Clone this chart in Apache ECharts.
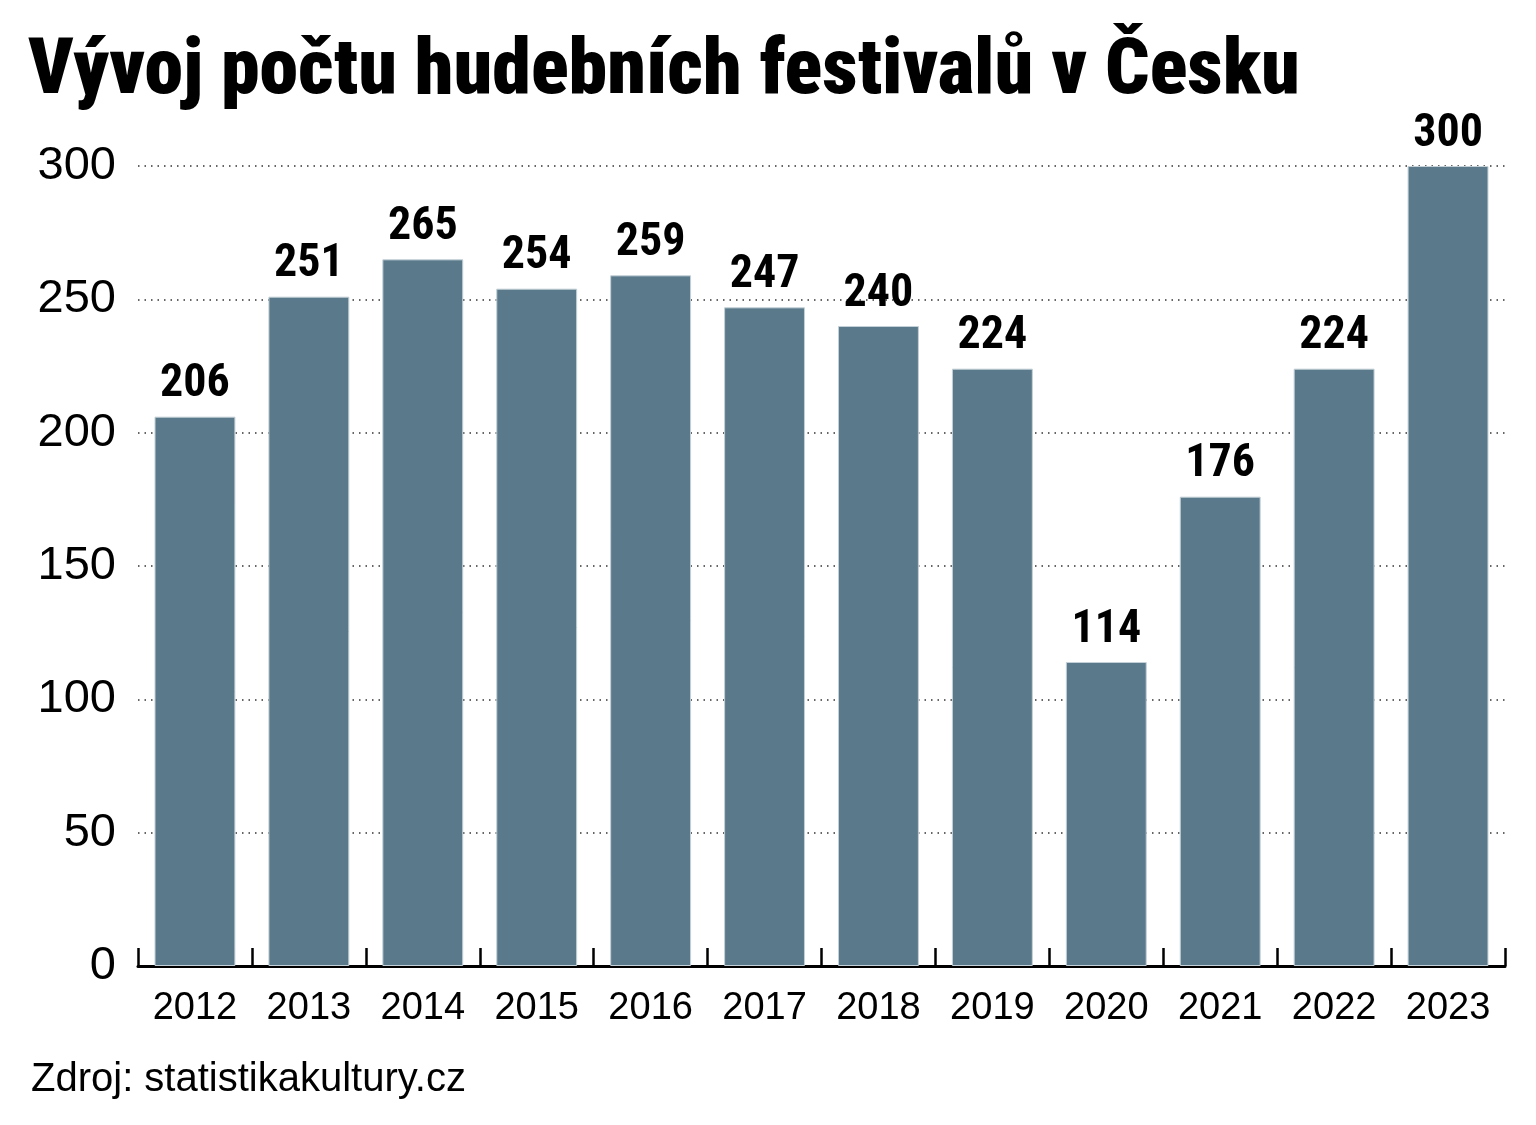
<!DOCTYPE html>
<html><head><meta charset="utf-8">
<script src="https://cdn.jsdelivr.net/npm/echarts@6/dist/echarts.min.js"></script>
<style>html,body{margin:0;padding:0;background:#fff}#c{width:1536px;height:1125px}</style>
</head><body><div id="c"></div>
<script>
const years = ['2012','2013','2014','2015','2016','2017','2018','2019','2020','2021','2022','2023'];
const festivals = [206,251,265,254,259,247,240,224,114,176,224,300];
const yTicks = [0,50,100,150,200,250,300];
const titleText = 'Vývoj počtu hudebních festivalů v Česku';
const sourceText = 'Zdroj: statistikakultury.cz';

const chart = echarts.init(document.getElementById('c'), null, {renderer:'canvas'});
chart.setOption({
  backgroundColor:'#fff',
  animation:false,
  title:[{
    text:titleText, left:23, top:29,
    textStyle:{fontFamily:'"Roboto Condensed","Liberation Sans Narrow",Roboto,sans-serif',fontWeight:900,fontSize:78,color:'#000'}
  },{
    text:sourceText, left:26, top:1055,
    textStyle:{fontFamily:'"Liberation Sans",Arial,sans-serif',fontWeight:'normal',fontSize:40,color:'#000'}
  }],
  grid:{left:138,right:31,top:166,bottom:159,containLabel:false},
  xAxis:{
    type:'category', data:years,
    axisLine:{show:true,lineStyle:{color:'#000',width:3}},
    axisTick:{show:true,interval:0,inside:true,length:18,lineStyle:{color:'#000',width:2.5}},
    axisLabel:{interval:0,fontFamily:'"Liberation Sans",Arial,sans-serif',fontSize:38,color:'#000',margin:24}
  },
  yAxis:{
    type:'value', min:0, max:300, interval:50,
    axisLine:{show:false}, axisTick:{show:false},
    axisLabel:{fontFamily:'"Liberation Sans",Arial,sans-serif',fontSize:47,color:'#000',margin:22,
      formatter:function(v){return yTicks.indexOf(v)>=0?String(v):'';}},
    splitLine:{lineStyle:{color:'#333',type:[1.5,5],width:1.5}}
  },
  series:[{
    type:'bar', data:festivals, barWidth:'71%',
    itemStyle:{color:'#5a7a8b',borderColor:'#c3d0d7',borderWidth:1},
    label:{show:true,position:'top',distance:9,fontFamily:'"Roboto Condensed","Liberation Sans Narrow",sans-serif',fontWeight:'bold',fontSize:46,color:'#000'}
  }]
});
</script></body></html>
